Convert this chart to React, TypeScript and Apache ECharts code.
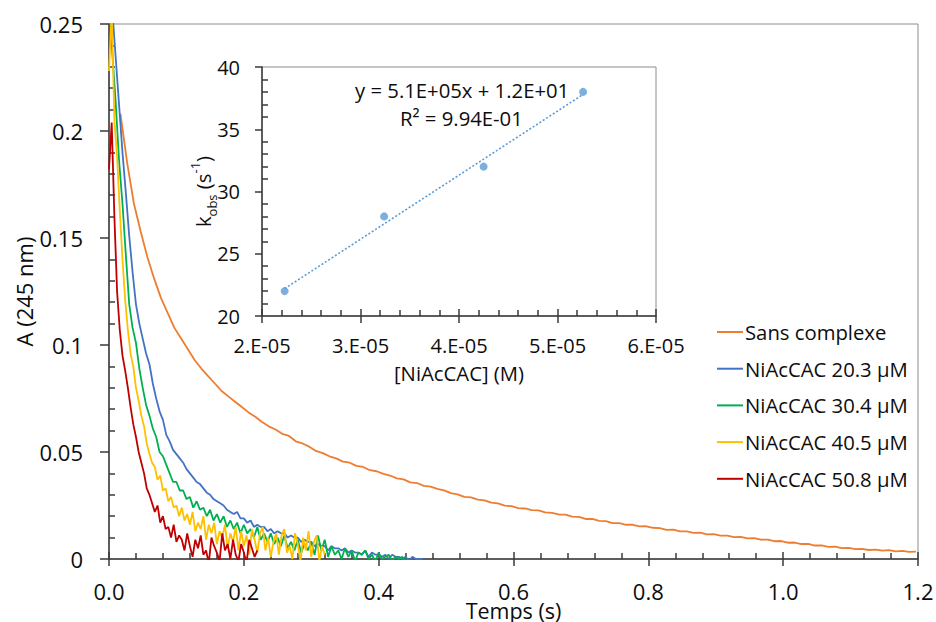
import React, { useEffect, useRef } from "react";
import * as echarts from "echarts";

// ---------- main chart data (time grids + absorbance) ----------
const seriesNames = [
  "Sans complexe",
  "NiAcCAC 20.3 µM",
  "NiAcCAC 30.4 µM",
  "NiAcCAC 40.5 µM",
  "NiAcCAC 50.8 µM",
];

const orangeStart = 0.017;
const orangeStep = 0.01;
const orangeA = [
  0.208, 0.185, 0.166, 0.153, 0.141, 0.131, 0.122, 0.115, 0.108, 0.103,
  0.098, 0.093, 0.089, 0.0855, 0.082, 0.0785, 0.076, 0.0735, 0.071, 0.0685,
  0.0665, 0.064, 0.062, 0.0605, 0.0585, 0.0575, 0.055, 0.054, 0.0525, 0.0505,
  0.0495, 0.048, 0.047, 0.0455, 0.045, 0.0435, 0.043, 0.0415, 0.041, 0.0398,
  0.039, 0.0377, 0.0372, 0.0358, 0.0355, 0.0342, 0.0338, 0.0328, 0.0321, 0.0308,
  0.0302, 0.029, 0.0288, 0.0277, 0.0274, 0.0263, 0.026, 0.0249, 0.0247, 0.0238,
  0.0236, 0.0228, 0.0227, 0.0218, 0.0216, 0.0208, 0.0207, 0.0198, 0.0197, 0.0187,
  0.0187, 0.0178, 0.0177, 0.0168, 0.0168, 0.016, 0.016, 0.0152, 0.0153, 0.0146,
  0.0144, 0.0136, 0.0137, 0.0129, 0.0129, 0.0122, 0.0123, 0.0115, 0.0116, 0.0109,
  0.0109, 0.0102, 0.0103, 0.0096, 0.0097, 0.009, 0.0091, 0.0083, 0.0084, 0.0076,
  0.0077, 0.007, 0.0071, 0.0063, 0.0064, 0.0057, 0.0058, 0.0051, 0.0052, 0.0046,
  0.0047, 0.0042, 0.0044, 0.0039, 0.0041, 0.0036, 0.0038, 0.0033, 0.0034,
];

const blueStart = 0;
const blueStep = 0.005;
const blueA = [
  0.28, 0.256, 0.234, 0.212, 0.19, 0.171, 0.151, 0.134, 0.119, 0.11,
  0.103, 0.096, 0.091, 0.082, 0.075, 0.069, 0.065, 0.058, 0.055, 0.051,
  0.049, 0.047, 0.045, 0.042, 0.04, 0.038, 0.036, 0.035, 0.033, 0.031,
  0.03, 0.028, 0.027, 0.026, 0.025, 0.023, 0.022, 0.021, 0.022, 0.019,
  0.019, 0.017, 0.018, 0.015, 0.016, 0.015, 0.015, 0.013, 0.014, 0.012,
  0.013, 0.012, 0.012, 0.01, 0.011, 0.01, 0.01, 0.008, 0.009, 0.008,
  0.008, 0.006, 0.007, 0.006, 0.006, 0.004, 0.006, 0.005, 0.005, 0.004,
  0.005, 0.003, 0.004, 0.003, 0.003, 0.002, 0.004, 0.001, 0.003, 0.002,
  0.002, 0.001, 0.002, 0.0, 0.002, 0.001, 0.001, 0.0, 0.001, -0.001,
  0.001, 0.0, 0.0, 0.0,
];

const greenStart = 0;
const greenStep = 0.005;
const greenA = [
  0.262, 0.236, 0.213, 0.186, 0.166, 0.142, 0.119, 0.108, 0.101, 0.089,
  0.08, 0.072, 0.067, 0.061, 0.057, 0.05, 0.048, 0.044, 0.04, 0.036,
  0.036, 0.032, 0.032, 0.028, 0.029, 0.024, 0.027, 0.023, 0.024, 0.02,
  0.023, 0.018, 0.021, 0.017, 0.02, 0.015, 0.018, 0.014, 0.017, 0.012,
  0.016, 0.012, 0.014, 0.01, 0.015, 0.009, 0.012, 0.008, 0.012, 0.007,
  0.01, 0.006, 0.011, 0.005, 0.008, 0.004, 0.009, 0.003, 0.007, 0.004,
  0.008, 0.002, 0.011, 0.004, 0.009, 0.001, 0.006, 0.002, 0.004, 0.0,
  0.005, 0.001, 0.004, -0.001, 0.003, 0.002, 0.004, 0.0, 0.002, -0.001,
  0.003, 0.0, 0.001, 0.002, -0.001, 0.001, 0.0, 0.001, -0.001, 0.0,
];

const yellowStart = 0;
const yellowStep = 0.004;
const yellowA = [
  0.228, 0.256, 0.205, 0.188, 0.163, 0.14, 0.121, 0.107, 0.096, 0.09,
  0.08, 0.074, 0.067, 0.062, 0.054, 0.049, 0.045, 0.043, 0.037, 0.039,
  0.032, 0.033, 0.027, 0.029, 0.024, 0.025, 0.02, 0.024, 0.018, 0.021,
  0.016, 0.022, 0.013, 0.017, 0.014, 0.02, 0.009, 0.016, 0.012, 0.017,
  0.007, 0.013, 0.01, 0.016, 0.005, 0.012, 0.008, 0.015, 0.004, 0.013,
  0.006, 0.011, 0.002, 0.014, 0.009, 0.003, 0.012, 0.015, 0.004, 0.01,
  0.001, 0.008, 0.012, 0.002, 0.011, 0.014, 0.003, 0.006, 0.0, 0.012,
  0.007, -0.001, 0.01, 0.004, 0.013, 0.001, 0.008, 0.011, -0.001, 0.006,
  0.002,
];

const redStart = 0;
const redStep = 0.004;
const redA = [
  0.182, 0.204, 0.16, 0.125, 0.107, 0.095, 0.088, 0.08, 0.071, 0.063,
  0.057, 0.05, 0.045, 0.04, 0.033, 0.03, 0.026, 0.022, 0.025, 0.017,
  0.02, 0.014, 0.015, 0.01, 0.016, 0.008, 0.011, 0.009, 0.004, 0.012,
  0.006, 0.001, 0.009, 0.005, 0.011, 0.002, 0.004, -0.002, 0.01, 0.006,
  0.003, -0.001, 0.012, 0.004, 0.007, 0.0, 0.009, 0.002, -0.001, 0.007,
  0.003, -0.002, 0.009, 0.005, 0.001, 0.004,
];

// ---------- inset data ----------
const insetConc = [2.23e-5, 3.24e-5, 4.25e-5, 5.26e-5];
const insetKobs = [22, 28, 32, 38];
const insetXTickLabels = ["2.E-05", "3.E-05", "4.E-05", "5.E-05", "6.E-05"];
const trendEquation = "y = 5.1E+05x + 1.2E+01";
const trendR2 = "R² = 9.94E-01";

const COLORS = ["#ED7D31", "#4472C4", "#00B050", "#FFC000", "#C00000"];
const INSET_COLOR = "#5B9BD5";
const FONT = "'Open Sans', 'Noto Sans', sans-serif";
const TEXT = "#0d0d0d";
const AXIS = "#3a3a3a";
const BORDER = "#8c8c8c";

function pairs(start: number, step: number, vals: number[]) {
  return vals.map((v, i) => [Number((start + i * step).toFixed(4)), v]);
}

function fitLine(xs: number[], ys: number[]) {
  const n = xs.length;
  const mx = xs.reduce((a, b) => a + b, 0) / n;
  const my = ys.reduce((a, b) => a + b, 0) / n;
  let sxy = 0;
  let sxx = 0;
  for (let i = 0; i < n; i++) {
    sxy += (xs[i] - mx) * (ys[i] - my);
    sxx += (xs[i] - mx) * (xs[i] - mx);
  }
  const slope = sxy / sxx;
  const icpt = my - slope * mx;
  const x0 = Math.min(...xs);
  const x1 = Math.max(...xs);
  return [
    [x0, icpt + slope * x0],
    [x1, icpt + slope * x1],
  ];
}

export default function App() {
  const ref = useRef<HTMLDivElement>(null);

  useEffect(() => {
    if (!ref.current) return;
    const chart = echarts.init(ref.current, undefined, { renderer: "svg" });

    const axisLine = { show: true, lineStyle: { color: AXIS, width: 1.5 } };
    const tickStyle = { color: AXIS, width: 1.5 };

    const mainData = [
      pairs(orangeStart, orangeStep, orangeA),
      pairs(blueStart, blueStep, blueA),
      pairs(greenStart, greenStep, greenA),
      pairs(yellowStart, yellowStep, yellowA),
      pairs(redStart, redStep, redA),
    ];

    const lineSeries = seriesNames.map((name, i) => ({
      name,
      type: "line",
      xAxisIndex: 0,
      yAxisIndex: 0,
      data: mainData[i],
      showSymbol: false,
      symbol: "none",
      clip: true,
      lineStyle: { color: COLORS[i], width: 1.8 },
      itemStyle: { color: COLORS[i] },
      z: 2 + i,
    }));

    const option: any = {
      animation: false,
      backgroundColor: "#ffffff",
      textStyle: { fontFamily: FONT },
      grid: [
        {
          left: 109,
          top: 24,
          width: 809,
          height: 535,
          show: true,
          borderColor: BORDER,
          borderWidth: 1,
          backgroundColor: "transparent",
          containLabel: false,
          outerBoundsMode: "none",
        },
        {
          left: 262,
          top: 67,
          width: 394,
          height: 249,
          show: true,
          borderColor: BORDER,
          borderWidth: 1,
          backgroundColor: "transparent",
          containLabel: false,
          outerBoundsMode: "none",
        },
      ],
      legend: {
        orient: "vertical",
        left: 712,
        top: 316,
        icon: "rect",
        itemWidth: 26,
        itemHeight: 2,
        itemGap: 14.7,
        data: seriesNames,
        textStyle: {
          fontFamily: FONT,
          fontSize: 20.3,
          color: TEXT,
          lineHeight: 22,
          padding: [0, 0, 0, -3],
        },
      },
      xAxis: [
        {
          type: "value",
          gridIndex: 0,
          min: 0,
          max: 1.2,
          interval: 0.2,
          position: "bottom",
          axisLine,
          axisTick: { show: true, inside: false, length: 7, lineStyle: tickStyle },
          axisLabel: {
            margin: 23,
            fontSize: 22,
            lineHeight: 18,
            color: TEXT,
            fontFamily: FONT,
            formatter: (v: number) => v.toFixed(1),
          },
          splitLine: { show: false },
          name: "Temps (s)",
          nameLocation: "middle",
          nameGap: 43,
          nameMoveOverlap: false,
          nameTextStyle: { fontSize: 21.5, color: TEXT, fontFamily: FONT, lineHeight: 16 },
        },
        {
          type: "value",
          gridIndex: 0,
          min: 0,
          max: 1.2,
          interval: 0.2,
          position: "bottom",
          axisLine: { show: false },
          axisLabel: { show: false },
          axisTick: { show: true, inside: true, length: 7, lineStyle: tickStyle },
          minorTick: { show: true, splitNumber: 5, length: 6, lineStyle: tickStyle },
          splitLine: { show: false },
        },
        {
          type: "value",
          gridIndex: 1,
          min: 2e-5,
          max: 6e-5,
          interval: 1e-5,
          position: "bottom",
          axisLine,
          axisTick: { show: true, inside: false, length: 7, lineStyle: tickStyle },
          axisLabel: {
            margin: 19,
            fontSize: 20,
            color: TEXT,
            fontFamily: FONT,
            formatter: (v: number) =>
              insetXTickLabels[Math.round((v - 2e-5) / 1e-5)] ?? "",
          },
          splitLine: { show: false },
          name: "[NiAcCAC] (M)",
          nameLocation: "middle",
          nameGap: 47,
          nameMoveOverlap: false,
          nameTextStyle: { fontSize: 20.3, color: TEXT, fontFamily: FONT },
        },
        {
          type: "value",
          gridIndex: 1,
          min: 2e-5,
          max: 6e-5,
          interval: 1e-5,
          position: "bottom",
          axisLine: { show: false },
          axisLabel: { show: false },
          axisTick: { show: true, inside: true, length: 7, lineStyle: tickStyle },
          minorTick: { show: true, splitNumber: 5, length: 6, lineStyle: tickStyle },
          splitLine: { show: false },
        },
      ],
      yAxis: [
        {
          type: "value",
          gridIndex: 0,
          min: 0,
          max: 0.25,
          interval: 0.05,
          position: "left",
          axisLine,
          axisTick: { show: true, inside: false, length: 9, lineStyle: tickStyle },
          axisLabel: {
            margin: 26,
            fontSize: 22,
            color: TEXT,
            fontFamily: FONT,
            formatter: (v: number) => String(Number(v.toFixed(2))),
          },
          splitLine: { show: false },
          name: "A (245 nm)",
          nameLocation: "middle",
          nameGap: 74,
          nameMoveOverlap: false,
          nameTextStyle: { fontSize: 22, color: TEXT, fontFamily: FONT },
        },
        {
          type: "value",
          gridIndex: 0,
          min: 0,
          max: 0.25,
          interval: 0.05,
          position: "left",
          axisLine: { show: false },
          axisLabel: { show: false },
          axisTick: { show: false, inside: true },
          minorTick: { show: true, splitNumber: 5, length: 6, lineStyle: tickStyle },
          splitLine: { show: false },
        },
        {
          type: "value",
          gridIndex: 1,
          min: 20,
          max: 40,
          interval: 5,
          position: "left",
          axisLine,
          axisTick: { show: true, inside: false, length: 7, lineStyle: tickStyle },
          axisLabel: { margin: 22, fontSize: 20, color: TEXT, fontFamily: FONT },
          splitLine: { show: false },
          name: "{a|k}{b|obs}{a| (s}{c|-1}{a|)}",
          nameLocation: "middle",
          nameGap: 44,
          nameMoveOverlap: false,
          nameTextStyle: {
            color: TEXT,
            fontFamily: FONT,
            rich: {
              a: { fontSize: 20.3, lineHeight: 30, verticalAlign: "middle", color: TEXT, fontFamily: FONT },
              b: { fontSize: 13, lineHeight: 30, verticalAlign: "bottom", color: TEXT, fontFamily: FONT },
              c: { fontSize: 13, lineHeight: 30, verticalAlign: "top", color: TEXT, fontFamily: FONT },
            },
          },
        },
        {
          type: "value",
          gridIndex: 1,
          min: 20,
          max: 40,
          interval: 5,
          position: "left",
          axisLine: { show: false },
          axisLabel: { show: false },
          axisTick: { show: false, inside: true },
          minorTick: { show: true, splitNumber: 5, length: 6, lineStyle: tickStyle },
          splitLine: { show: false },
        },
      ],
      series: [
        ...lineSeries,
        {
          name: "trend",
          type: "line",
          xAxisIndex: 2,
          yAxisIndex: 2,
          data: fitLine(insetConc, insetKobs),
          showSymbol: false,
          symbol: "none",
          lineStyle: { color: INSET_COLOR, width: 1.6, type: [2, 2] },
          z: 5,
        },
        {
          name: "kobs",
          type: "scatter",
          xAxisIndex: 2,
          yAxisIndex: 2,
          data: insetConc.map((c, i) => [c, insetKobs[i]]),
          symbol: "circle",
          symbolSize: 8,
          itemStyle: { color: INSET_COLOR },
          z: 6,
        },
      ],
      graphic: [
        {
          type: "text",
          left: 463 - 108,
          top: 80,
          style: {
            text: trendEquation,
            x: 0,
            y: 0,
            fill: TEXT,
            font: `20.3px ${FONT}`,
          },
          z: 10,
        },
        {
          type: "text",
          left: 462 - 62,
          top: 108,
          style: {
            text: trendR2,
            x: 0,
            y: 0,
            fill: TEXT,
            font: `20.3px ${FONT}`,
          },
          z: 10,
        },
      ],
    };

    chart.setOption(option);
    return () => chart.dispose();
  }, []);

  return (
    <div
      ref={ref}
      style={{ position: "fixed", left: 0, top: 0, width: 936, height: 622, background: "#fff" }}
    />
  );
}
